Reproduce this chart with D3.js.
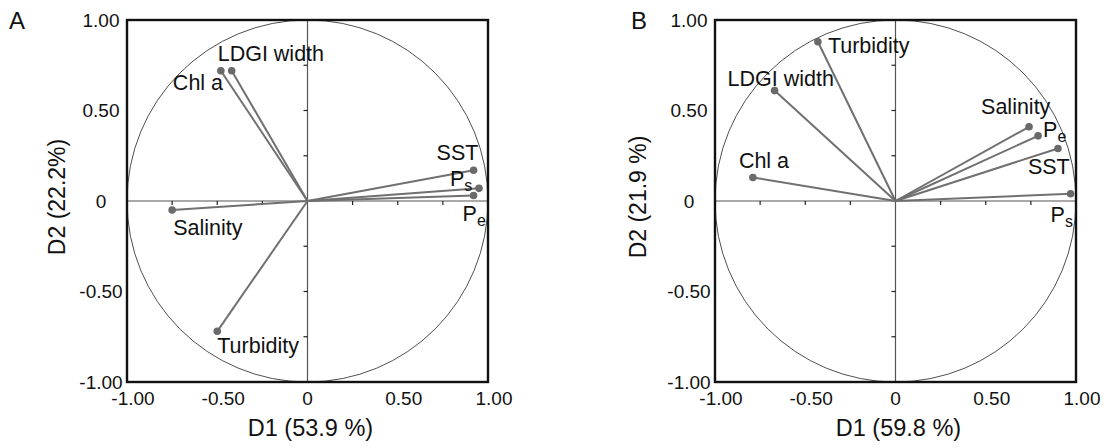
<!DOCTYPE html>
<html>
<head>
<meta charset="utf-8">
<script src="https://cdn.jsdelivr.net/npm/d3@7"></script>
<style>
  body { margin: 0; background: #fff; }
  svg { font-family: 'Liberation Sans', Arial, sans-serif; }
</style>
</head>
<body>
<div id="chart"></div>
<script>
// Panel A variables and loadings
var varsA = ['Chl a', 'LDGI width', 'Salinity', 'Turbidity', 'SST', 'P|s', 'P|e'];
var d1A = [-0.48, -0.42, -0.75, -0.50, 0.92, 0.95, 0.92];
var d2A = [0.72, 0.72, -0.05, -0.72, 0.17, 0.07, 0.03];

// Panel B variables and loadings
var varsB = ['Turbidity', 'LDGI width', 'Chl a', 'Salinity', 'P|e', 'SST', 'P|s'];
var d1B = [-0.43, -0.67, -0.79, 0.74, 0.79, 0.90, 0.97];
var d2B = [0.88, 0.61, 0.13, 0.41, 0.36, 0.29, 0.04];

var tickValues = [-1, -0.5, 0, 0.5, 1];
var tickLabels = ['-1.00', '-0.50', '0', '0.50', '1.00'];
var minorTicks = [-0.75, -0.5, -0.25, 0.25, 0.5, 0.75];

// label offsets (px) from each point
var offA = [[-48, 19], [-14, -10], [1, 25], [0, 22], [-37, -10], [-29, -2], [-11, 25]];
var offB = [[10, 11], [-47, -5], [-14, -9], [-48, -13], [5, 1], [-30, 25], [-20, 28]];

var svg = d3.select('#chart')
    .append('svg')
    .attr('width', 1109)
    .attr('height', 448);

drawPanel({
    letter: 'A', left: 127, top: 20, letterX: 9,
    xTitle: 'D1 (53.9 %)', yTitle: 'D2 (22.2%)', yTitleX: 57,
    names: varsA, d1: d1A, d2: d2A, off: offA
});
drawPanel({
    letter: 'B', left: 715, top: 20, letterX: 631,
    xTitle: 'D1 (59.8 %)', yTitle: 'D2 (21.9 %)', yTitleX: 638,
    names: varsB, d1: d1B, d2: d2B, off: offB
});

function drawPanel(p){
    var w = 361, h = 362;
    var x = d3.scaleLinear().domain([-1, 1]).range([p.left, p.left + w]);
    var y = d3.scaleLinear().domain([-1, 1]).range([p.top + h, p.top]);
    var g = svg.append('g');

    //Correlation circle
    g.append('ellipse')
        .attr('cx', x(0)).attr('cy', y(0))
        .attr('rx', x(1) - x(0)).attr('ry', y(0) - y(1))
        .style('fill', 'none')
        .style('stroke', '#222')
        .style('stroke-width', 0.8);

    //Zero axes
    g.append('line')
        .attr('x1', x(-1)).attr('x2', x(1))
        .attr('y1', y(0)).attr('y2', y(0))
        .style('stroke', '#555').style('stroke-width', 1.2);
    g.append('line')
        .attr('x1', x(0)).attr('x2', x(0))
        .attr('y1', y(-1)).attr('y2', y(1))
        .style('stroke', '#555').style('stroke-width', 1.2);

    //Small ticks on the zero axes
    g.selectAll('.xt')
        .data(minorTicks)
        .enter()
        .append('line')
        .attr('x1', function(d){ return x(d); })
        .attr('x2', function(d){ return x(d); })
        .attr('y1', y(0)).attr('y2', y(0) + 4)
        .style('stroke', '#222').style('stroke-width', 1.2);
    g.selectAll('.yt')
        .data(minorTicks)
        .enter()
        .append('line')
        .attr('y1', function(d){ return y(d); })
        .attr('y2', function(d){ return y(d); })
        .attr('x1', x(0) - 4).attr('x2', x(0))
        .style('stroke', '#222').style('stroke-width', 1.2);

    //Vectors
    var idx = d3.range(p.names.length);
    g.selectAll('.vec')
        .data(idx)
        .enter()
        .append('line')
        .attr('x1', x(0)).attr('y1', y(0))
        .attr('x2', function(i){ return x(p.d1[i]); })
        .attr('y2', function(i){ return y(p.d2[i]); })
        .style('stroke', '#707070')
        .style('stroke-width', 2);
    g.selectAll('.dot')
        .data(idx)
        .enter()
        .append('circle')
        .attr('cx', function(i){ return x(p.d1[i]); })
        .attr('cy', function(i){ return y(p.d2[i]); })
        .attr('r', 3.8)
        .style('fill', '#6a6a6a');

    //Variable labels
    var lab = g.selectAll('.lab')
        .data(idx)
        .enter()
        .append('text')
        .attr('x', function(i){ return x(p.d1[i]) + p.off[i][0]; })
        .attr('y', function(i){ return y(p.d2[i]) + p.off[i][1]; })
        .style('font-size', '21.5px')
        .style('fill', '#111');
    lab.each(function(i){
        var parts = p.names[i].split('|');
        var t = d3.select(this);
        t.append('tspan').text(parts[0]);
        if(parts[1]){
            t.append('tspan')
                .attr('dy', 5)
                .style('font-size', '16px')
                .text(parts[1]);
        }
    });

    //Frame
    g.append('rect')
        .attr('x', p.left).attr('y', p.top)
        .attr('width', w).attr('height', h)
        .style('fill', 'none')
        .style('stroke', '#111')
        .style('stroke-width', 2.4);

    //Tick labels
    g.selectAll('.xl')
        .data(tickValues)
        .enter()
        .append('text')
        .attr('x', function(d){ return x(d) + (d === 0 ? 0 : 6); })
        .attr('y', p.top + h + 23)
        .attr('text-anchor', 'middle')
        .style('font-size', '19px')
        .style('fill', '#111')
        .text(function(d, i){ return tickLabels[i]; });
    g.selectAll('.yl')
        .data(tickValues)
        .enter()
        .append('text')
        .attr('x', p.left - 26)
        .attr('y', function(d){ return y(d) + 6.5; })
        .attr('text-anchor', 'middle')
        .style('font-size', '19px')
        .style('fill', '#111')
        .text(function(d, i){ return tickLabels[i]; });

    //Axis titles
    g.append('text')
        .attr('x', x(0) + 3)
        .attr('y', 436)
        .attr('text-anchor', 'middle')
        .style('font-size', '23.5px')
        .style('fill', '#111')
        .text(p.xTitle);
    g.append('text')
        .attr('transform', 'translate(' + (p.yTitleX + 8) + ',' + (y(0) - 4) + ') rotate(-90)')
        .attr('text-anchor', 'middle')
        .style('font-size', '23px')
        .style('fill', '#111')
        .text(p.yTitle);

    //Panel letter
    g.append('text')
        .attr('x', p.letterX)
        .attr('y', 29)
        .style('font-size', '24px')
        .style('fill', '#111')
        .text(p.letter);
}
</script>
</body>
</html>
